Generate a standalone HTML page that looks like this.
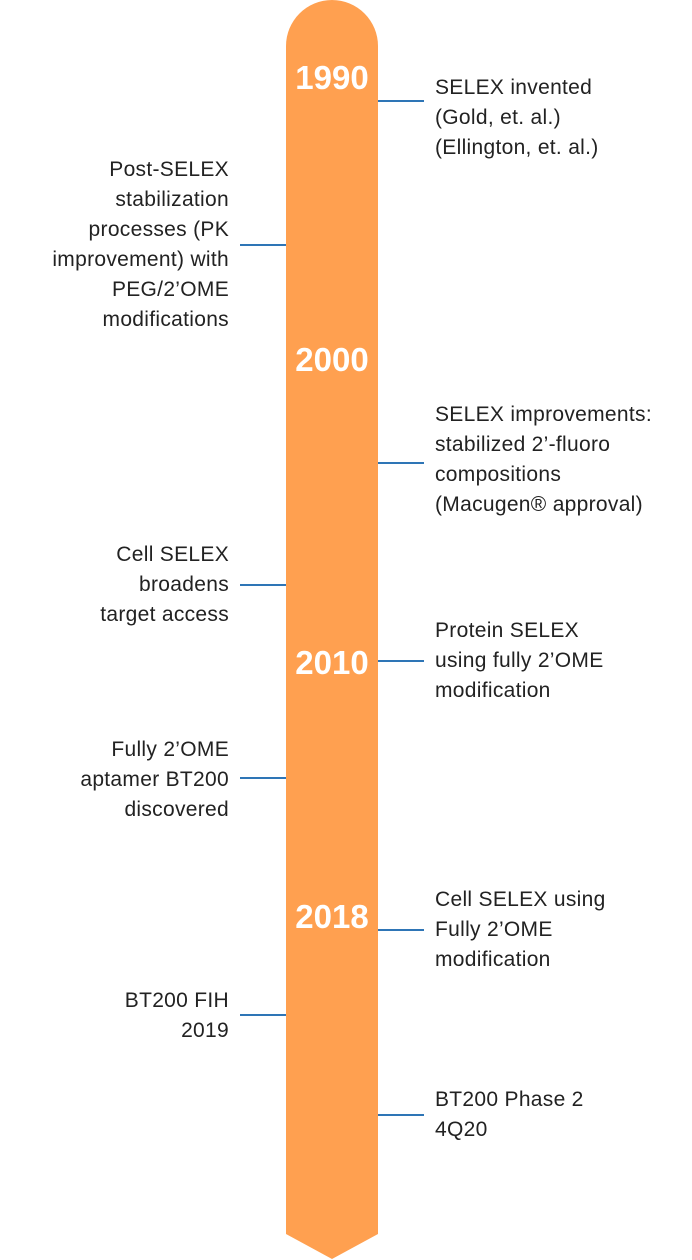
<!DOCTYPE html>
<html><head><meta charset="utf-8"><style>
body{margin:0;width:692px;height:1260px;background:#fff;position:relative;overflow:hidden;font-family:"Liberation Sans",sans-serif;}
.t{position:absolute;font-size:21px;letter-spacing:0.3px;line-height:30px;color:#222;white-space:nowrap}
.l{right:463px;text-align:right}
.r{left:435px}
.ln{position:absolute;height:2px;background:#2E75B6}
.y{position:absolute;left:286px;width:92px;text-align:center;color:#fff;font-weight:bold;font-size:33px;line-height:36px}
</style></head><body>
<svg width="692" height="1260" style="position:absolute;left:0;top:0">
<path d="M286,46 A46,46 0 0 1 378,46 L378,1234 L332,1259 L286,1234 Z" fill="#FFA050"/>
</svg>
<div class="y" style="top:60px">1990</div>
<div class="y" style="top:342px">2000</div>
<div class="y" style="top:645px">2010</div>
<div class="y" style="top:899px">2018</div>

<div class="ln" style="left:378px;width:46px;top:100px"></div>
<div class="t r" style="top:73px">SELEX invented<br>(Gold, et. al.)<br>(Ellington, et. al.)</div>

<div class="ln" style="left:240px;width:46px;top:244px"></div>
<div class="t l" style="top:155px">Post-SELEX<br>stabilization<br>processes (PK<br>improvement) with<br>PEG/2’OME<br>modifications</div>

<div class="ln" style="left:378px;width:46px;top:462px"></div>
<div class="t r" style="top:400px">SELEX improvements:<br>stabilized 2’-fluoro<br>compositions<br>(Macugen® approval)</div>

<div class="ln" style="left:240px;width:46px;top:584px"></div>
<div class="t l" style="top:540px">Cell SELEX<br>broadens<br>target access</div>

<div class="ln" style="left:378px;width:46px;top:660px"></div>
<div class="t r" style="top:616px">Protein SELEX<br>using fully 2’OME<br>modification</div>

<div class="ln" style="left:240px;width:46px;top:777px"></div>
<div class="t l" style="top:735px">Fully 2’OME<br>aptamer BT200<br>discovered</div>

<div class="ln" style="left:378px;width:46px;top:929px"></div>
<div class="t r" style="top:885px">Cell SELEX using<br>Fully 2’OME<br>modification</div>

<div class="ln" style="left:240px;width:46px;top:1014px"></div>
<div class="t l" style="top:986px">BT200 FIH<br>2019</div>

<div class="ln" style="left:378px;width:46px;top:1114px"></div>
<div class="t r" style="top:1085px">BT200 Phase 2<br>4Q20</div>
</body></html>
